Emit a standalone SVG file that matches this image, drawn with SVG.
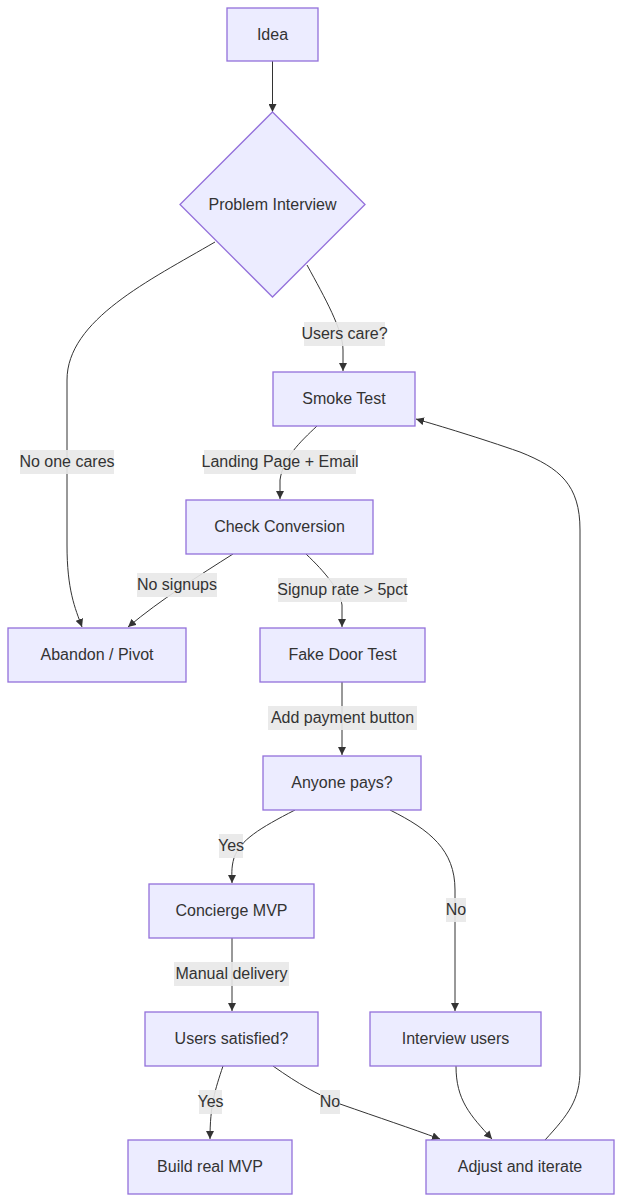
<svg xmlns="http://www.w3.org/2000/svg" width="623" height="1202" viewBox="0 0 623 1202">
<style>
.node rect, .node polygon { fill: #ECECFF; stroke: #9370DB; stroke-width: 1.3; }
text { font-family: "Liberation Sans", Arial, sans-serif; font-size: 16px; fill: #333; text-anchor: middle; dominant-baseline: central; }
.edge path { fill: none; stroke: #333; stroke-width: 1; }
.lbl rect { fill: #E8E8E8; opacity: 0.9; }
</style>
<defs>
<marker id="arrow" viewBox="0 0 10 10" refX="10" refY="5" markerWidth="8" markerHeight="8" markerUnits="userSpaceOnUse" orient="auto">
<path d="M0,0 L10,5 L0,10 z" fill="#333"/>
</marker>
</defs>
<rect width="623" height="1202" fill="#fff"/>
<g id="connectors" class="edge">
<path marker-end="url(#arrow)" d="M272.5,61 L272.5,112"/>
<path marker-end="url(#arrow)" d="M215,242 C150,280 67,320 67,380 L67,545 C67,590 75,608 82,627"/>
<path marker-end="url(#arrow)" d="M307,265 C325,298 343,330 343,350 L343,371"/>
<path marker-end="url(#arrow)" d="M317,426 C300,442 283,458 280,480 L280,499"/>
<path marker-end="url(#arrow)" d="M233,554 C200,575 160,600 128,627"/>
<path marker-end="url(#arrow)" d="M306,554 C325,572 340,590 342,605 L342,627"/>
<path marker-end="url(#arrow)" d="M342,682 L342,755"/>
<path marker-end="url(#arrow)" d="M295,810 C260,828 240,840 234,858 C231,868 232,875 232,883"/>
<path marker-end="url(#arrow)" d="M390,810 C430,830 455,850 455,890 L455,1011"/>
<path marker-end="url(#arrow)" d="M232,938 L232,1011"/>
<path marker-end="url(#arrow)" d="M223,1066 C215,1090 210,1105 210,1139"/>
<path marker-end="url(#arrow)" d="M273,1066 C300,1085 315,1093 340,1104 C380,1118 410,1128 440,1139"/>
<path marker-end="url(#arrow)" d="M456,1066 C456,1100 470,1115 492,1139"/>
<path marker-end="url(#arrow)" d="M545,1140 C568,1115 580,1100 580,1070 L580,530 C580,485 560,468 520,452 C480,438 440,426 416,419"/>
</g>
<g id="edge-labels" class="lbl">
<g><rect x="304" y="322" width="81" height="24"/><text x="344.5" y="333.5">Users care?</text></g>
<g><rect x="20" y="450" width="94" height="24"/><text x="67" y="461.5">No one cares</text></g>
<g><rect x="204" y="450" width="152" height="24"/><text x="280" y="461.5">Landing Page + Email</text></g>
<g><rect x="137" y="573" width="80" height="24"/><text x="177" y="584.5">No signups</text></g>
<g><rect x="278" y="578" width="129" height="24"/><text x="342.5" y="589.5">Signup rate &gt; 5pct</text></g>
<g><rect x="268" y="706" width="149" height="24"/><text x="342.5" y="717.5">Add payment button</text></g>
<g><rect x="219" y="834" width="24" height="24"/><text x="231" y="845.5">Yes</text></g>
<g><rect x="446" y="898" width="20" height="24"/><text x="456" y="909.5">No</text></g>
<g><rect x="174" y="962" width="115" height="24"/><text x="231.5" y="973.5">Manual delivery</text></g>
<g><rect x="199" y="1090" width="23" height="24"/><text x="210.5" y="1101.5">Yes</text></g>
<g><rect x="320" y="1090" width="20" height="24"/><text x="330" y="1101.5">No</text></g>
</g>
<g id="idea" class="node"><rect x="227" y="8" width="91" height="53"/><text x="272.5" y="34">Idea</text></g>
<g id="problem-interview" class="node"><polygon points="272.5,112 365,204.5 272.5,297 180,204.5"/><text x="272.5" y="204">Problem Interview</text></g>
<g id="smoke-test" class="node"><rect x="273" y="372" width="142" height="54"/><text x="344" y="398.5">Smoke Test</text></g>
<g id="check-conversion" class="node"><rect x="186" y="500" width="187" height="54"/><text x="279.5" y="526.5">Check Conversion</text></g>
<g id="abandon-pivot" class="node"><rect x="8" y="628" width="178" height="54"/><text x="97" y="654.5">Abandon / Pivot</text></g>
<g id="fake-door-test" class="node"><rect x="260" y="628" width="165" height="54"/><text x="342.5" y="654.5">Fake Door Test</text></g>
<g id="anyone-pays" class="node"><rect x="263" y="756" width="158" height="54"/><text x="342" y="782.5">Anyone pays?</text></g>
<g id="concierge-mvp" class="node"><rect x="149" y="884" width="165" height="54"/><text x="231.5" y="910.5">Concierge MVP</text></g>
<g id="users-satisfied" class="node"><rect x="145" y="1012" width="173" height="54"/><text x="231.5" y="1038.5">Users satisfied?</text></g>
<g id="interview-users" class="node"><rect x="370" y="1012" width="171" height="54"/><text x="455.5" y="1038.5">Interview users</text></g>
<g id="build-real-mvp" class="node"><rect x="128" y="1140" width="164" height="54"/><text x="210" y="1166.5">Build real MVP</text></g>
<g id="adjust-and-iterate" class="node"><rect x="426" y="1140" width="188" height="54"/><text x="520" y="1166.5">Adjust and iterate</text></g>
</svg>
